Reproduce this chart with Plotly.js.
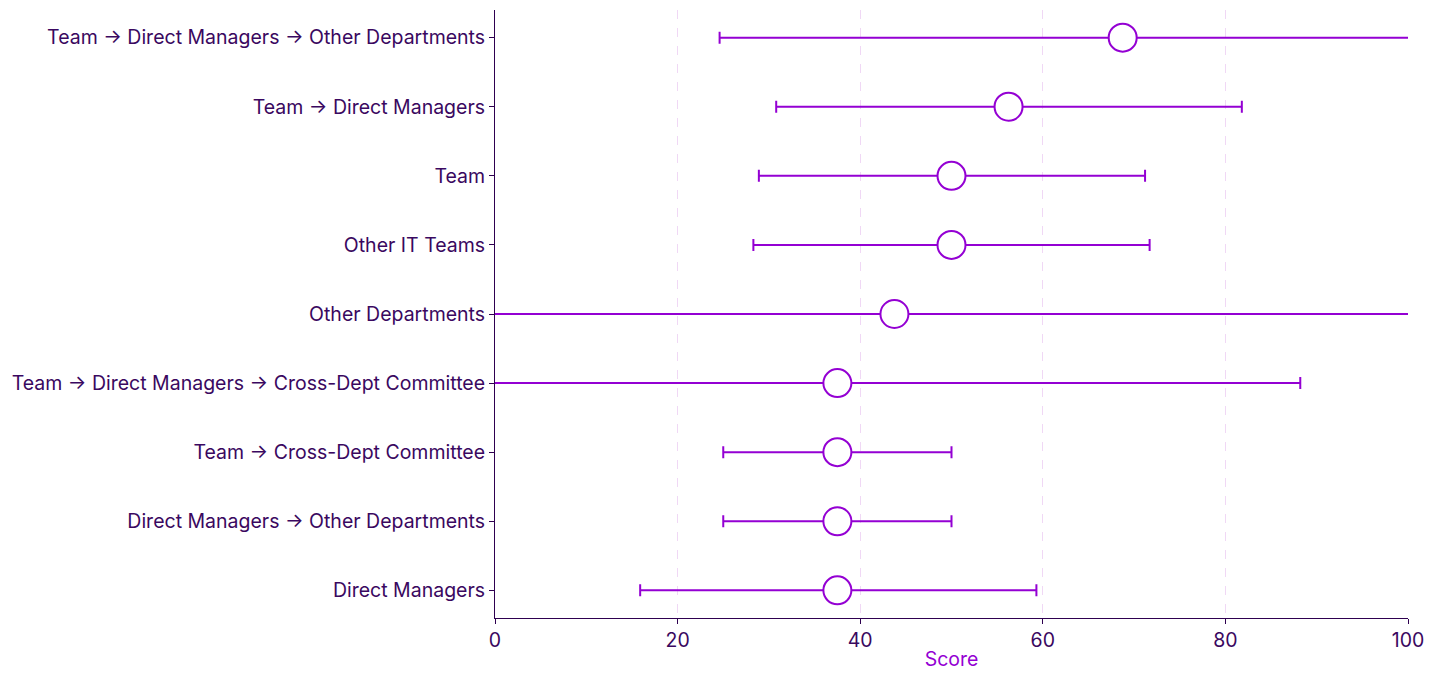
<!DOCTYPE html>
<html>
<head>
<meta charset="utf-8">
<script src="https://cdn.plot.ly/plotly-3.0.1.min.js"></script>
<style>html,body{margin:0;padding:0;background:#fff;}#chart{width:1435px;height:679px;}</style>
</head>
<body>
<div id="chart"></div>
<script>
const categories = [
  "Direct Managers",
  "Direct Managers → Other Departments",
  "Team → Cross-Dept Committee",
  "Team → Direct Managers → Cross-Dept Committee",
  "Other Departments",
  "Other IT Teams",
  "Team",
  "Team → Direct Managers",
  "Team → Direct Managers → Other Departments"
];
const means = [37.5, 37.5, 37.5, 37.5, 43.75, 50, 50, 56.25, 68.75];
const lowerBounds = [15.9, 25, 25, -8, -12, 28.3, 28.9, 30.8, 24.6];
const upperBounds = [59.3, 50, 50, 88.2, 108, 71.7, 71.2, 81.8, 112];

const errPlus = means.map((m, i) => upperBounds[i] - m);
const errMinus = means.map((m, i) => m - lowerBounds[i]);

const violet = '#9400D3';
const dark = '#3a0860';

const trace = {
  type: 'scatter',
  mode: 'markers',
  x: means,
  y: categories,
  marker: {symbol: 'circle', size: 28, color: '#ffffff', line: {color: violet, width: 2}},
  error_x: {type: 'data', symmetric: false, array: errPlus, arrayminus: errMinus,
            color: violet, thickness: 2, width: 6},
  showlegend: false,
  hoverinfo: 'x+y'
};

const layout = {
  width: 1435, height: 679,
  margin: {l: 495, r: 27, t: 10, b: 61},
  paper_bgcolor: '#ffffff', plot_bgcolor: '#ffffff',
  font: {family: 'Inter, sans-serif', color: dark, size: 19.5},
  xaxis: {
    range: [0, 100], tickvals: [0, 20, 40, 60, 80, 100],
    showgrid: true, gridcolor: '#f0d8f5', griddash: 'dash', gridwidth: 1,
    zeroline: false, showline: true, linecolor: '#2e0050', linewidth: 1,
    ticks: 'outside', ticklen: 5, tickcolor: '#2e0050',
    tickfont: {size: 19.5, color: dark},
    title: {text: 'Score', font: {size: 19.5, color: violet}, standoff: 0}
  },
  yaxis: {
    type: 'category', categoryorder: 'array', categoryarray: categories,
    range: [-0.4, 8.4],
    showgrid: false, zeroline: false, showline: true, linecolor: '#2e0050', linewidth: 1,
    ticks: 'outside', ticklen: 5, tickcolor: '#2e0050',
    tickfont: {size: 19.5, color: dark}
  }
};

Plotly.newPlot('chart', [trace], layout, {displayModeBar: false, staticPlot: true});
</script>
</body>
</html>
